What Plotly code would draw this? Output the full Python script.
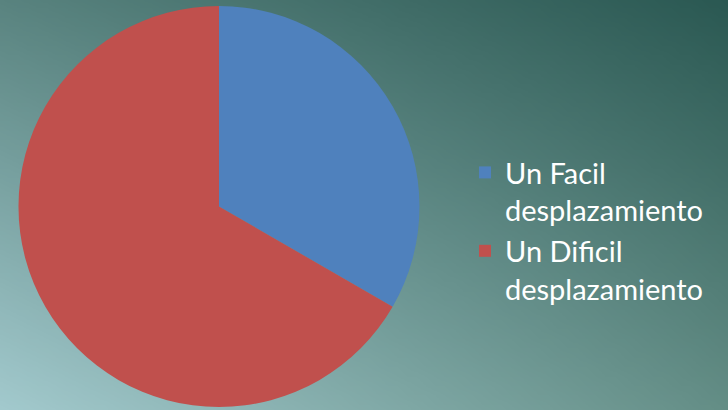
import base64, zlib, struct
import plotly.graph_objects as go

labels = ["Un Facil<br>desplazamiento", "Un Dificil<br>desplazamiento"]
values = [1, 2]
colors = ["#4f81bd", "#c0504d"]

# smooth background approximation (bilinear blend of corner tones)
W, H = 80, 45
corners = {
    "tl": (90, 132, 128), "tr": (42, 88, 82),
    "bl": (165, 204, 208), "br": (100, 142, 134),
}
def make_png():
    rows = b""
    for j in range(H):
        v = j / (H - 1)
        row = b"\x00"
        for i in range(W):
            u = i / (W - 1)
            px = []
            for k in range(3):
                top = corners["tl"][k] * (1 - u) + corners["tr"][k] * u
                bot = corners["bl"][k] * (1 - u) + corners["br"][k] * u
                px.append(int(top * (1 - v) + bot * v))
            row += bytes(px)
        rows += row
    def chunk(t, d):
        c = struct.pack(">I", len(d)) + t + d
        return c + struct.pack(">I", zlib.crc32(t + d) & 0xffffffff)
    png = b"\x89PNG\r\n\x1a\n" + chunk(b"IHDR", struct.pack(">IIBBBBB", W, H, 8, 2, 0, 0, 0))
    png += chunk(b"IDAT", zlib.compress(rows)) + chunk(b"IEND", b"")
    return "data:image/png;base64," + base64.b64encode(png).decode()

fig = go.Figure(go.Pie(
    labels=labels, values=values, sort=False, direction="clockwise", rotation=0,
    marker=dict(colors=colors, line=dict(width=0)),
    textinfo="none", hoverinfo="label+percent",
    domain=dict(x=[0, 0.6016], y=[0, 1]),
))
fig.update_layout(
    width=728, height=410,
    margin=dict(l=0, r=0, t=6, b=3),
    paper_bgcolor="#4a766f",
    font=dict(family="Lato, Open Sans, sans-serif", color="white", size=30),
    legend=dict(x=465 / 728, y=0.44, xanchor="left", yanchor="middle", valign="top",
                bgcolor="rgba(0,0,0,0)", font=dict(size=29, color="white"),
                itemwidth=30, tracegroupgap=0),
    images=[dict(source=make_png(), xref="paper", yref="paper", x=-0.02, y=1.03,
                 sizex=1.04, sizey=1.06, sizing="stretch", layer="below",
                 xanchor="left", yanchor="top")],
)
fig.write_html("out.html", config={"displayModeBar": False},
               post_script="document.body.style.margin='0';")
